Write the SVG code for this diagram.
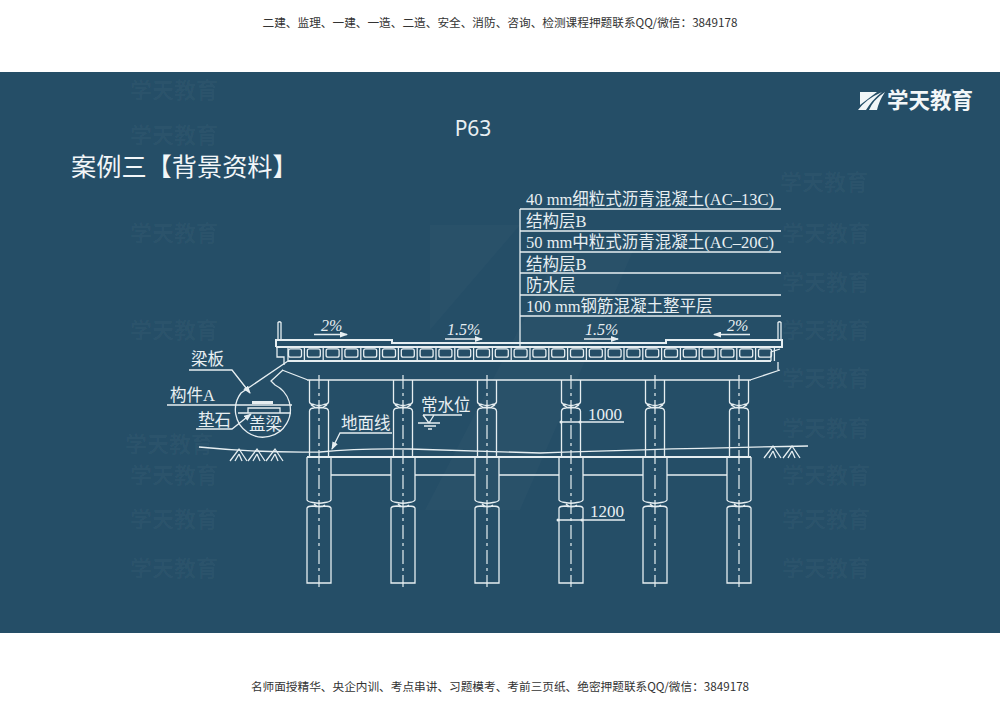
<svg xmlns="http://www.w3.org/2000/svg" xmlns:xlink="http://www.w3.org/1999/xlink" width="1000" height="707" viewBox="0 0 1000 707">
<style>
.l{fill:none;stroke:#e6eef1;stroke-width:1.3}
.t{stroke-width:2}
.c{fill:none;stroke:#e6eef1;stroke-width:1.2;stroke-dasharray:14 4 3 4}
.d{font-family:"Liberation Serif","Noto Sans CJK SC",serif;fill:#e8eff2;font-size:16.5px}
.s{font-size:16px;font-style:italic}
.n{font-size:17px}
.h{font-family:"Noto Sans CJK SC",sans-serif;fill:#333;font-size:11.66px}
.w{font-family:"Noto Sans CJK SC",sans-serif;fill:#fff;fill-opacity:.035;font-size:22px;font-weight:700}
.f{fill:#e6eef1}
</style>
<defs>
<g id="cell"><rect x="-6.5" y="348.8" width="13" height="8.4" rx="2" class="l"/><path d="M9.4 347V361" class="l"/></g>
<g id="col">
<path class="l" d="M-9.500 380V402Q-9 404.500 -5 404.500Q0 406.500 5 404.500Q9 404.500 9.500 402V380M-8 405Q0 411 8 405M-9.500 456V411Q-9 408 -5 408Q0 406.500 5 408Q9 408 9.500 411V456"/>
<path class="l" d="M-12 457V500Q-11 502 -6 502.500Q0 504 6 502.500Q11 502 12 500V457M-12 583V508Q-11 506 -6 506Q0 507 6 506Q11 506 12 508V583ZM-5 504Q0 509 6 505"/>
<path class="c" d="M0 375V587"/>
</g>
<marker id="a" markerWidth="8" markerHeight="6" refX="7" refY="3" orient="auto" markerUnits="userSpaceOnUse"><path d="M0 0L8 3L0 6Z" fill="#e6eef1"/></marker>
<g id="hatch"><path class="l" d="M0 12L9 0L17 12M9 5L5 12M9 5L12 12"/></g>
</defs>
<rect width="1000" height="707" fill="#fff"/>
<rect y="72" width="1000" height="561" fill="#254e67"/>
<path d="M430 225H520L430 330ZM425 510L560 250L640 235L520 510Z" fill="#fff" fill-opacity=".018"/>
<g id="watermarks">
<text class="w" x="130" y="98">学天教育</text><text class="w" x="130" y="143">学天教育</text><text class="w" x="130" y="241">学天教育</text><text class="w" x="130" y="338">学天教育</text><text class="w" x="125" y="452">学天教育</text><text class="w" x="130" y="483">学天教育</text><text class="w" x="130" y="527">学天教育</text><text class="w" x="130" y="576">学天教育</text>
<text class="w" x="780" y="190">学天教育</text><text class="w" x="782" y="241">学天教育</text><text class="w" x="782" y="290">学天教育</text><text class="w" x="782" y="338">学天教育</text><text class="w" x="782" y="386">学天教育</text><text class="w" x="782" y="436">学天教育</text><text class="w" x="782" y="483">学天教育</text><text class="w" x="782" y="527">学天教育</text><text class="w" x="782" y="576">学天教育</text>
</g>
<text id="header" class="h" x="500" y="27" text-anchor="middle">二建、监理、一建、一造、二造、安全、消防、咨询、检测课程押题联系QQ/微信：3849178</text>
<text id="footer" class="h" x="500" y="691" text-anchor="middle">名师面授精华、央企内训、考点串讲、习题模考、考前三页纸、绝密押题联系QQ/微信：3849178</text>
<g id="logo">
<path d="M860 92H877L860 105ZM858 110Q866 99 882 92Q872 100 866 110ZM869 110Q873 100 885 92Q879 101 877 110Z" fill="#f2f6f8"/>
<text x="887" y="108" font-family="Noto Sans CJK SC,sans-serif" font-size="21.5" font-weight="700" fill="#f2f6f8">学天教育</text>
</g>
<text id="page" x="473" y="136" text-anchor="middle" font-family="Noto Sans,sans-serif" font-size="21" fill="#e8eff2">P63</text>
<text id="title" x="71" y="176" font-family="Noto Sans CJK SC,sans-serif" font-size="25.200" fill="#f2f6f8">案例三【背景资料】</text>
<g id="layers">
<path class="l" d="M520 209V347M520 209H781M520 231H781M520 252H781M520 273H781M520 295H781M520 316H781"/>
<g class="d">
<text x="526" y="205">40 mm细粒式沥青混凝土(AC–13C)</text>
<text x="526" y="227">结构层B</text>
<text x="526" y="248">50 mm中粒式沥青混凝土(AC–20C)</text>
<text x="526" y="270">结构层B</text>
<text x="526" y="291">防水层</text>
<text x="526" y="312">100 mm钢筋混凝土整平层</text>
</g>
</g>
<g id="deck">
<path class="l t" d="M276 347V340H392V343H666V340H782V347H276M288 361H771"/>
<path class="l" d="M278 340V322.500Q279.500 321 281 322.500V340M781 340V322.500Q779.500 321 778 322.500V340M277 347V357H284V365M288 361V348M771 361V352L780 349M778 362V370M282 370L308 380M750 380L780 370M307 380H751"/>
<g id="cells">
<use xlink:href="#cell" x="295"/><use xlink:href="#cell" x="313.800"/><use xlink:href="#cell" x="332.600"/><use xlink:href="#cell" x="351.400"/><use xlink:href="#cell" x="370.200"/><use xlink:href="#cell" x="389"/><use xlink:href="#cell" x="407.800"/><use xlink:href="#cell" x="426.600"/><use xlink:href="#cell" x="445.400"/><use xlink:href="#cell" x="464.200"/><use xlink:href="#cell" x="483"/><use xlink:href="#cell" x="501.800"/><use xlink:href="#cell" x="520.600"/><use xlink:href="#cell" x="539.400"/><use xlink:href="#cell" x="558.200"/><use xlink:href="#cell" x="577"/><use xlink:href="#cell" x="595.800"/><use xlink:href="#cell" x="614.600"/><use xlink:href="#cell" x="633.400"/><use xlink:href="#cell" x="652.200"/><use xlink:href="#cell" x="671"/><use xlink:href="#cell" x="689.800"/><use xlink:href="#cell" x="708.600"/><use xlink:href="#cell" x="727.400"/><use xlink:href="#cell" x="746.200"/><use xlink:href="#cell" x="765"/>
</g>
</g>
<g id="slopes">
<text class="d s" x="321" y="331">2%</text><path class="l" d="M314 334.500H347" marker-end="url(#a)"/>
<text class="d s" x="447" y="335">1.5%</text><path class="l" d="M445 339H482" marker-end="url(#a)"/>
<text class="d s" x="585" y="335">1.5%</text><path class="l" d="M584 339H618" marker-end="url(#a)"/>
<text class="d s" x="727" y="331">2%</text><path class="l" d="M750 334.500H714" marker-end="url(#a)"/>
</g>
<g id="columns">
<use xlink:href="#col" x="319"/><use xlink:href="#col" x="403"/><use xlink:href="#col" x="487"/><use xlink:href="#col" x="571"/><use xlink:href="#col" x="655"/><use xlink:href="#col" x="739"/>
<path class="l t" d="M307 457H751"/>
<path class="l" d="M331 475H391M415 475H475M499 475H559M583 475H643M667 475H727"/>
</g>
<g id="ground">
<path class="l" d="M199 447Q260 453 320 452Q360 448 410 449Q480 451 540 453Q650 449 808 446"/>
<use xlink:href="#hatch" x="230" y="449"/><use xlink:href="#hatch" x="248" y="449"/><use xlink:href="#hatch" x="266" y="449"/><use xlink:href="#hatch" x="764" y="446"/><use xlink:href="#hatch" x="783" y="446"/>
<text class="d" x="341" y="429">地面线</text>
<path class="l" d="M392 433H340L332 449" marker-end="url(#a)"/>
</g>
<g id="water">
<text class="d" x="421" y="411">常水位</text>
<path class="l" d="M423 415H462M418 423H440M424 426H436M428 429H432M423 415L429 423L434 415"/>
</g>
<g id="dims">
<text class="d n" x="588" y="420">1000</text><path class="l" d="M561 422H624"/><circle class="f" cx="561" cy="422" r="1.500"/><circle class="f" cx="580" cy="422" r="1.500"/>
<text class="d n" x="590" y="517">1200</text><path class="l" d="M558 520H625"/><circle class="f" cx="558" cy="520" r="1.500"/><circle class="f" cx="582" cy="520" r="1.500"/>
</g>
<g id="detail">
<path class="l" d="M288 361L241 393A27.500 27.500 0 1 0 275 385L271 381L283 370"/>
<path class="l" d="M167 405H292M238 413H291M248 413V408H280V413"/>
<path class="f" d="M252 401H273V404H252Z"/>
<path class="l" d="M189 370H232L250 393" marker-end="url(#a)"/>
<path class="l" d="M196 429H232L251 414" marker-end="url(#a)"/>
<text class="d" x="191" y="365">梁板</text>
<text class="d" x="170" y="401">构件A</text>
<text class="d" x="198" y="426">垫石</text>
<text class="d" x="249" y="430">盖梁</text>
</g>
</svg>
